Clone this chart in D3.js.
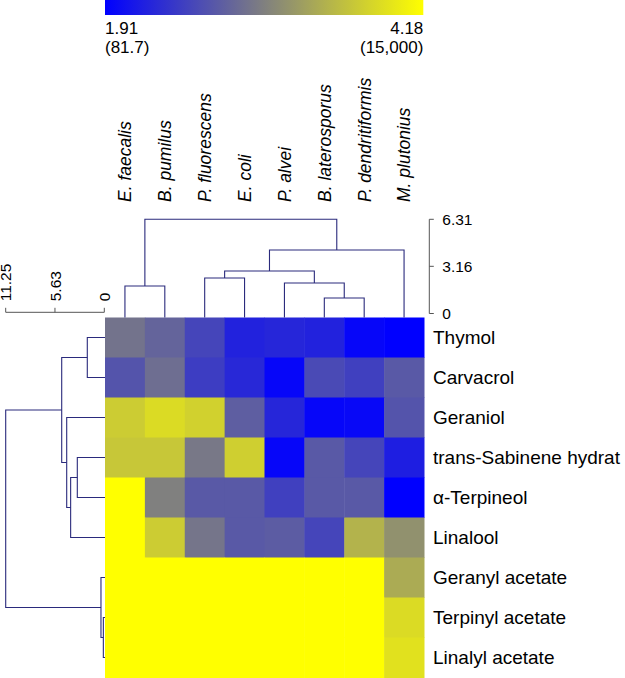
<!DOCTYPE html>
<html>
<head>
<meta charset="utf-8">
<script src="https://cdn.jsdelivr.net/npm/d3@7/dist/d3.min.js"></script>
<style>
  html, body { margin: 0; padding: 0; background: #fff; }
  svg { display: block; }
  text { font-family: "Liberation Sans", Arial, sans-serif; fill: #000; }
</style>
</head>
<body>
<svg id="chart" width="625" height="678"></svg>
<script>
// ---------- data ----------
const columns = ["E. faecalis", "B. pumilus", "P. fluorescens", "E. coli",
                 "P. alvei", "B. laterosporus", "P. dendritiformis", "M. plutonius"];
const rows = ["Thymol", "Carvacrol", "Geraniol", "trans-Sabinene hydrat",
              "α-Terpineol", "Linalool", "Geranyl acetate", "Terpinyl acetate", "Linalyl acetate"];

// log10 values per row (columns in the order above)
const thymol     = [2.93, 2.80, 2.52, 2.21, 2.25, 2.21, 1.96, 1.91];
const carvacrol  = [2.66, 2.89, 2.45, 2.27, 1.96, 2.57, 2.48, 2.70];
const geraniol   = [3.73, 3.86, 3.77, 2.75, 2.25, 1.96, 1.98, 2.66];
const sabinene   = [3.68, 3.68, 2.98, 3.75, 1.96, 2.70, 2.52, 2.18];
const terpineol  = [4.18, 3.05, 2.70, 2.70, 2.48, 2.70, 2.70, 1.91];
const linalool   = [4.18, 3.73, 2.95, 2.70, 2.73, 2.52, 3.50, 3.20];
const geranylAc  = [4.18, 4.18, 4.18, 4.18, 4.18, 4.18, 4.18, 3.43];
const terpinylAc = [4.18, 4.18, 4.18, 4.18, 4.18, 4.18, 4.18, 3.86];
const linalylAc  = [4.18, 4.18, 4.18, 4.18, 4.18, 4.18, 4.18, 3.91];
const values = [thymol, carvacrol, geraniol, sabinene, terpineol, linalool, geranylAc, terpinylAc, linalylAc];

const colorMin = 1.91, colorMax = 4.18;
const colorLabels = [["1.91", "(81.7)"], ["4.18", "(15,000)"]];

// dendrogram merges (hclust style: negative = leaf index+1, positive = earlier merge), height
const colMerge = [[-6, -7, 1.04], [-3, -4, 2.38], [-5, 1, 2.04], [-1, -2, 1.84],
                  [2, 3, 2.85], [5, -8, 4.25], [4, 6, 6.31]];
const rowMerge = [[-8, -9, 0.11], [-7, 1, 0.38], [-1, -2, 1.94], [-4, -5, 3.08],
                  [4, -6, 3.84], [-3, 5, 4.29], [3, 6, 4.86], [7, 2, 11.25]];
const colAxisTicks = [0, 3.16, 6.31];
const rowAxisTicks = [0, 5.63, 11.25];
const rowAxisLabels = ["0", "5.63", "11.25"];

// ---------- layout ----------
const svg = d3.select("#chart");
const hmLeft = 105, hmRight = 424, hmTop = 317.5, hmBottom = 677.5;
const lineColor = "#2a2a7c";
const axisColor = "#555";

const x = d3.scaleBand().domain(columns).range([hmLeft, hmRight]).padding(0);
const y = d3.scaleBand().domain(rows).range([hmTop, hmBottom]).padding(0);
const color = d3.scaleLinear().domain([colorMin, colorMax])
  .range(["#0000ff", "#ffff00"]).interpolate(d3.interpolateRgb).clamp(true);

// ---------- heatmap ----------
const cells = [];
rows.forEach((r, i) => columns.forEach((c, j) => cells.push({ r, c, v: values[i][j] })));
svg.append("g").selectAll("rect").data(cells).join("rect")
  .attr("x", d => x(d.c)).attr("y", d => y(d.r))
  .attr("width", x.bandwidth() + 0.5).attr("height", y.bandwidth() + 0.5)
  .attr("fill", d => color(d.v));

// row labels
svg.append("g").selectAll("text").data(rows).join("text")
  .attr("x", 433).attr("y", d => y(d) + y.bandwidth() / 2)
  .attr("dy", "0.36em").style("font-size", "19px").text(d => d);

// column labels
svg.append("g").selectAll("text").data(columns).join("text")
  .attr("transform", d => `translate(${x(d) + x.bandwidth() / 2},202) rotate(-90)`)
  .attr("dy", "0.36em").style("font-size", "17.5px").style("font-style", "italic")
  .text(d => d);

// ---------- color bar ----------
const defs = svg.append("defs");
const grad = defs.append("linearGradient").attr("id", "cbar");
d3.range(0, 1.0001, 0.1).forEach(t => {
  grad.append("stop").attr("offset", t).attr("stop-color", color(colorMin + t * (colorMax - colorMin)));
});
const cb = d3.scaleLinear().domain([colorMin, colorMax]).range([hmLeft, 423.3]);
svg.append("rect").attr("x", cb(colorMin)).attr("y", 0)
  .attr("width", cb(colorMax) - cb(colorMin)).attr("height", 15).attr("fill", "url(#cbar)");
colorLabels.forEach((lab, i) => {
  const xx = i === 0 ? cb(colorMin) : cb(colorMax);
  const anchor = i === 0 ? "start" : "end";
  svg.append("text").attr("x", xx).attr("y", 33.5).attr("text-anchor", anchor)
    .style("font-size", "17px").text(lab[0]);
  svg.append("text").attr("x", xx).attr("y", 52.5).attr("text-anchor", anchor)
    .style("font-size", "17px").text(lab[1]);
});

// ---------- dendrogram helper ----------
function buildNodes(merge, leafPos) {
  const nodes = [];
  const get = k => k < 0 ? { pos: leafPos(-k - 1), h: 0, leaf: true } : nodes[k - 1];
  merge.forEach(m => {
    const a = get(m[0]), b = get(m[1]);
    nodes.push({ pos: (a.pos + b.pos) / 2, h: m[2], a, b, leaf: false });
  });
  return nodes;
}

// column dendrogram (top)
const colH = d3.scaleLinear().domain([0, 6.31]).range([313.5, 219.3]);
const colNodes = buildNodes(colMerge, i => x(columns[i]) + x.bandwidth() / 2);
const gTop = svg.append("g").attr("fill", "none").attr("stroke", lineColor).attr("stroke-width", 1.1);
const cy = n => n.leaf ? hmTop : colH(n.h);
colNodes.forEach(n => {
  const yy = colH(n.h);
  gTop.append("path").attr("d",
    `M${n.a.pos},${cy(n.a)}V${yy}H${n.b.pos}V${cy(n.b)}`);
});

// row dendrogram (left)
const rowH = d3.scaleLinear().domain([0, 11.25]).range([104.3, 5.7]);
const rowNodes = buildNodes(rowMerge, i => y(rows[i]) + y.bandwidth() / 2);
const gLeft = svg.append("g").attr("fill", "none").attr("stroke", lineColor).attr("stroke-width", 1.1);
const rx = n => n.leaf ? hmLeft : rowH(n.h);
rowNodes.forEach(n => {
  const xx = rowH(n.h);
  gLeft.append("path").attr("d",
    `M${rx(n.a)},${n.a.pos}H${xx}V${n.b.pos}H${rx(n.b)}`);
});

// ---------- dendrogram scales ----------
const axR = svg.append("g").attr("transform", "translate(429.3,0)");
axR.append("path").attr("d", `M0,${colH(0)}V${colH(6.31)}`).attr("stroke", axisColor).attr("fill", "none");
colAxisTicks.forEach(t => {
  axR.append("line").attr("x1", 0).attr("x2", 4.5).attr("y1", colH(t)).attr("y2", colH(t)).attr("stroke", axisColor);
  axR.append("text").attr("x", 13).attr("y", colH(t)).attr("dy", "0.36em")
    .style("font-size", "15.5px").text(d3.format(".2f")(t).replace(/^0\.00$/, "0"));
});

const axT = svg.append("g").attr("transform", "translate(0,312.3)");
axT.append("path").attr("d", `M${rowH(0)},0H${rowH(11.25)}`).attr("stroke", axisColor).attr("fill", "none");
rowAxisTicks.forEach((t, i) => {
  axT.append("line").attr("x1", rowH(t)).attr("x2", rowH(t)).attr("y1", 0).attr("y2", -4.5).attr("stroke", axisColor);
  axT.append("text").attr("transform", `translate(${rowH(t)},-11) rotate(-90)`)
    .attr("dy", "0.36em").style("font-size", "15.5px").text(rowAxisLabels[i]);
});
</script>
</body>
</html>
